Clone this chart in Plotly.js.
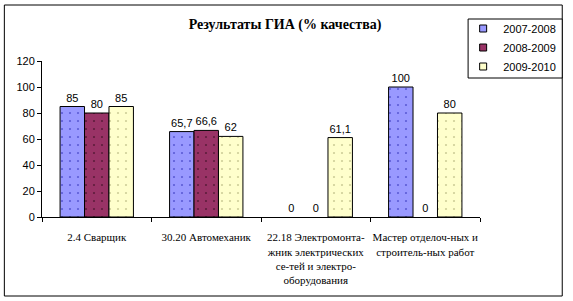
<!DOCTYPE html>
<html><head><meta charset="utf-8">
<script src="https://cdn.plot.ly/plotly-3.0.1.min.js"></script>
<style>html,body{margin:0;padding:0;background:#fff}#chart{width:573px;height:301px}</style>
</head><body><div id="chart"></div>
<script>
const categories = [
  "2.4 Сварщик",
  "30.20 Автомеханик",
  "22.18 Электромонта-<br>жник электрических<br>се-тей и электро-<br>оборудования",
  "Мастер отделоч-ных и<br>строитель-ных работ"
];
const seriesNames = ["2007-2008", "2008-2009", "2009-2010"];
const v2007 = [85, 65.7, 0, 100];
const v2008 = [80, 66.6, 0, 0];
const v2009 = [85, 62, 61.1, 80];
const yTicks = [0, 20, 40, 60, 80, 100, 120];

const colors = ["#9999FF", "#993366", "#FFFFCC"];
const dots = ["#5c5cd6", "#5e1c3c", "#cfcf99"];
const values = [v2007, v2008, v2009];
const fmt = v => String(v).replace('.', ',');

const traces = values.map((vals, i) => ({
  type: 'bar',
  name: seriesNames[i],
  x: categories,
  y: vals,
  text: vals.map(fmt),
  textposition: 'outside',
  cliponaxis: false,
  showlegend: false,
  textfont: {family: 'Liberation Sans', size: 11, color: '#000'},
  marker: {
    color: colors[i],
    line: {color: '#000', width: vals.map(v => v === 0 ? 0 : 1)},
    pattern: {shape: '.', bgcolor: colors[i], fgcolor: dots[i], size: 8, solidity: 0.06}
  },
  hoverinfo: 'none'
}));

// legend-only entries with small square swatches
seriesNames.forEach((name, i) => {
  traces.push({
    type: 'scatter', mode: 'markers', name: name, x: [null], y: [null],
    showlegend: true,
    marker: {symbol: 'square', size: 7, color: colors[i], line: {color: '#000', width: 1}},
    hoverinfo: 'none'
  });
});

const layout = {
  width: 573, height: 301,
  margin: {l: 42, r: 89, t: 61, b: 84},
  paper_bgcolor: '#fff', plot_bgcolor: '#fff',
  barmode: 'group', bargap: 0.33, bargroupgap: 0,
  showlegend: true,
  title: {text: 'Результаты ГИА (% качества)', font: {family: 'Liberation Serif', size: 14, color: '#000', weight: 'bold'},
          x: 285 / 573, xref: 'container', xanchor: 'center', y: 1 - 24/301, yref: 'container', yanchor: 'middle'},
  xaxis: {
    type: 'category', tickson: 'boundaries', ticks: 'outside', ticklen: 4, tickcolor: '#000',
    showline: true, linecolor: '#000', linewidth: 1, showgrid: false, zeroline: false,
    tickfont: {family: 'Liberation Serif', size: 11, color: '#000'},
    tickangle: 0, automargin: false, fixedrange: true, ticklabelstandoff: 10
  },
  yaxis: {
    range: [0, 120], tickvals: yTicks, ticktext: yTicks.map(String),
    ticks: 'outside', ticklen: 4, tickcolor: '#000',
    showline: true, linecolor: '#000', linewidth: 1, showgrid: false, zeroline: false,
    tickfont: {family: 'Liberation Sans', size: 11, color: '#000'},
    automargin: false, fixedrange: true
  },
  legend: {
    x: (467 - 42) / 442, xanchor: 'left', y: (217 - 14) / 156, yanchor: 'top',
    borderwidth: 0, bgcolor: 'rgba(0,0,0,0)',
    font: {family: 'Liberation Sans', size: 11, color: '#000'},
    itemwidth: 30
  },
  shapes: [
    {
      type: 'rect', xref: 'paper', yref: 'paper',
      x0: (4 - 42) / 442, x1: (567 - 42) / 442, y0: (217 - 296) / 156, y1: (217 - 5) / 156,
      line: {color: '#000', width: 1}, fillcolor: 'rgba(0,0,0,0)', layer: 'below'
    },
    {
      type: 'rect', xref: 'paper', yref: 'paper',
      x0: (472 - 42) / 442, x1: (567 - 42) / 442, y0: (217 - 78) / 156, y1: (217 - 19) / 156,
      line: {color: '#000', width: 1}, fillcolor: '#fff', layer: 'below'
    }
  ]
};

Plotly.newPlot('chart', traces, layout, {staticPlot: true, displayModeBar: false});
</script>
</body></html>
